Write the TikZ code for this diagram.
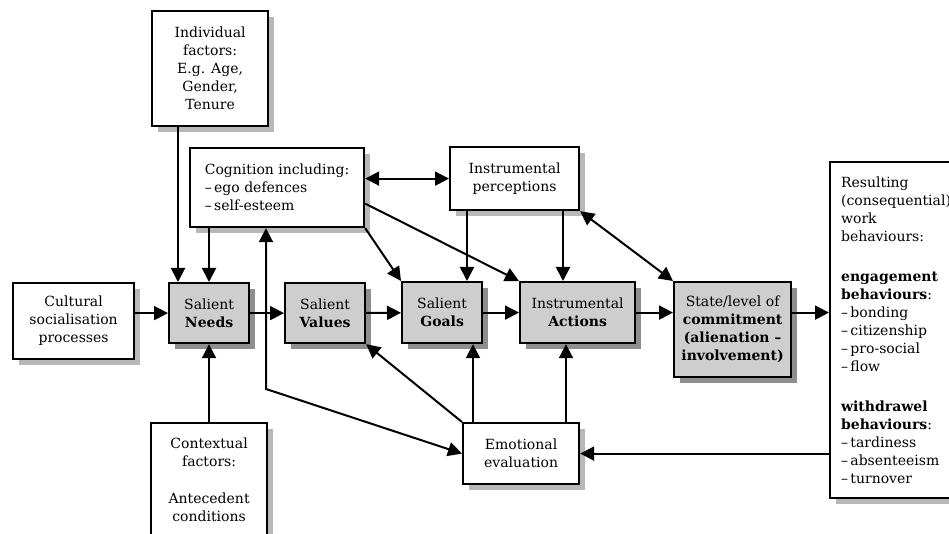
\documentclass[tikz,border=0pt]{standalone}
\usepackage{fontspec}
\setmainfont{DejaVu Serif}
\usepackage{tikz}
\usetikzlibrary{arrows.meta,shadows,calc}
\definecolor{coregray}{HTML}{CECECE}
\definecolor{lightshade}{HTML}{B8B8B8}
\definecolor{darkshade}{HTML}{8E8E8E}

\begin{document}
\begin{tikzpicture}[x=1pt,y=-1pt,
	font=\fontsize{14}{18}\selectfont,
	box/.style={draw,line width=2.2pt,fill=white,inner sep=0pt,anchor=north west,align=center,
		drop shadow={shadow xshift=6pt,shadow yshift=-6pt,fill=lightshade,opacity=1}},
	core/.style={box,fill=coregray,
		drop shadow={shadow xshift=6pt,shadow yshift=-6pt,fill=darkshade,opacity=1}},
	link/.style={line width=2pt,-{Triangle[length=14pt,width=14pt]}},
	both/.style={link,{Triangle[length=14pt,width=14pt]}-{Triangle[length=14pt,width=14pt]}}]
	\useasboundingbox (0,0) rectangle (949,534);

	\node[box,minimum width=116pt,minimum height=115pt] (individual) at (151,10) {Individual\\factors:\\E.g. Age,\\Gender,\\Tenure};
	\node[box,minimum width=174pt,minimum height=79pt,align=left] (cognition) at (189,147) {Cognition including:\\--\,ego defences\\--\,self-esteem};
	\node[box,minimum width=129pt,minimum height=63pt] (perceptions) at (449,146) {Instrumental\\perceptions};
	\node[box,minimum width=121pt,minimum height=76pt] (cultural) at (12,282) {Cultural\\socialisation\\processes};
	\node[core,minimum width=80pt,minimum height=60pt] (needs) at (168,282) {Salient\\\textbf{Needs}};
	\node[core,minimum width=80pt,minimum height=60pt] (values) at (284,282) {Salient\\\textbf{Values}};
	\node[core,minimum width=80pt,minimum height=61pt] (goals) at (401,281) {Salient\\\textbf{Goals}};
	\node[core,minimum width=115pt,minimum height=61pt] (actions) at (519,281) {Instrumental\\\textbf{Actions}};
	\node[core,minimum width=117pt,minimum height=95pt] (commit) at (673,281) {State/level of\\\textbf{commitment}\\\textbf{(alienation --}\\\textbf{involvement)}};
	\node[box,minimum height=336pt,text width=125pt,inner xsep=11pt,align=left] (result) at (829,161) {Resulting\\(consequential)\\work\\behaviours:\\[22pt]\textbf{engagement}\\\textbf{behaviours}:\\--\,bonding\\--\,citizenship\\--\,pro-social\\--\,flow\\[22pt]\textbf{withdrawel}\\\textbf{behaviours}:\\--\,tardiness\\--\,absenteeism\\--\,turnover};
	\node[box,minimum width=116pt,minimum height=61pt] (emotion) at (462,422) {Emotional\\evaluation};
	\node[box,minimum width=116pt,minimum height=132pt] (context) at (150,422) {Contextual\\factors:\\[19pt]Antecedent\\conditions\\\mbox{}};

	\coordinate (c1) at (178,0);
	\coordinate (c2) at (209,0);
	\coordinate (c4) at (467,0);
	\coordinate (c5) at (563,0);
	\coordinate (c6) at (473,0);
	\coordinate (c7) at (566,0);
	\coordinate (bend) at (266,389);

	\draw[link] (individual.south -| c1) -- (needs.north -| c1);
	\draw[link] (cognition.south -| c2) -- (needs.north -| c2);
	\draw[link] (context.north -| c2) -- (needs.south -| c2);
	\draw[link] (cultural.east |- needs.west) -- (needs.west);
	\draw[link] (needs) -- (values);
	\draw[link] (values) -- (goals);
	\draw[link] (goals) -- (actions);
	\draw[link] (actions.east) -- (commit.west |- actions.east);
	\draw[link] (commit.east |- actions.east) -- (result.west |- actions.east);
	\draw[both] (cognition.east |- perceptions.west) -- (perceptions.west);
	\draw[link] ($(cognition.east)+(0,16)$) -- (actions.north west);
	\draw[link] (cognition.south east) -- (goals.north west);
	\draw[link] (perceptions.south -| c4) -- (goals.north -| c4);
	\draw[link] (perceptions.south -| c5) -- (actions.north -| c5);
	\draw[both] (perceptions.south east) -- (commit.north west);
	\draw[link] (emotion.north west) -- (values.south east);
	\draw[link] (emotion.north -| c6) -- (goals.south -| c6);
	\draw[link] (emotion.north -| c7) -- (actions.south -| c7);
	\draw[link] (result.west |- emotion.east) -- (emotion.east);
	\draw[both] (cognition.south -| bend) -- (bend) -- (emotion.west);
\end{tikzpicture}
\end{document}
